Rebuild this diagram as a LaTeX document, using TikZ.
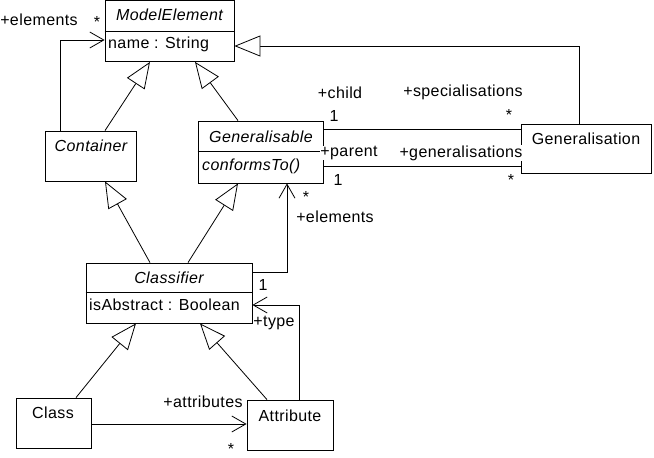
\documentclass[tikz,border=0pt]{standalone}
\usepackage{fontspec}
\setmainfont[LetterSpace=2.5]{Liberation Sans}
\usetikzlibrary{arrows.meta,calc}
\begin{document}
\begin{tikzpicture}[x=1pt,y=-1pt,
 every node/.style={font=\fontsize{16}{19}\selectfont},
 box/.style={draw, fill=white, line width=0.8pt, inner sep=0pt, rectangle},
 txt/.style={inner sep=0pt},
 lbl/.style={inner sep=0.5pt, fill=white},
 genarrow/.style={-{Triangle[open,length=26pt,width=21pt,fill=white]}, line width=0.8pt},
 nav/.style={-{Straight Barb[length=14pt,width=16pt]}, line width=0.8pt},
 conn/.style={line width=0.8pt}]
\useasboundingbox (0,0) rectangle (654,458);
% boxes
\node[box, minimum width=129pt, minimum height=61pt] (me) at (169.5,31) {};
\node[box, minimum width=91pt, minimum height=50pt] (cont) at (90.5,156) {};
\node[box, minimum width=125pt, minimum height=62pt] (gen) at (260.5,152) {};
\node[box, minimum width=130pt, minimum height=49pt] (gz) at (586,148.5) {};
\node[box, minimum width=166pt, minimum height=60pt] (cl) at (169,293) {};
\node[box, minimum width=75pt, minimum height=50pt] (cls) at (53.5,423) {};
\node[box, minimum width=86pt, minimum height=50pt] (attr) at (290,425) {};
% dividers
\draw[conn] (me.west |- 0,31) -- (me.east |- 0,31);
\draw[conn] (gen.west |- 0,151) -- (gen.east |- 0,151);
\draw[conn] (cl.west |- 0,292) -- (cl.east |- 0,292);
% box texts
\node[txt] (tme) at (169.5,15) {\itshape ModelElement};
\node[txt, anchor=west] (tmea) at (108,44) {name : String};
\node[txt] (tcont) at (91,146) {\itshape Container};
\node[txt] (tgen) at (261,137) {\itshape Generalisable};
\node[txt, anchor=west] (tgena) at (202,166) {\itshape conformsTo()};
\node[txt] (tgz) at (586,139) {Generalisation};
\node[txt] (tcl) at (169,278) {\itshape Classifier};
\node[txt, anchor=west] (tcla) at (89,305) {isAbstract : Boolean};
\node[txt] (tcls) at (53,413) {Class};
\node[txt] (tattr) at (290,416) {Attribute};
% generalisations
\draw[genarrow] ([xshift=14.5pt]cont.north) -- ([xshift=-19.5pt]me.south);
\draw[genarrow] ([xshift=-22.5pt]gen.north) -- ([xshift=25.5pt]me.south);
\draw[genarrow] ([xshift=-7pt]gz.north) |- ([yshift=-15pt]me.east);
\draw[genarrow] ([xshift=-19pt]cl.north) -- ([xshift=14.5pt]cont.south);
\draw[genarrow] ([xshift=19pt]cl.north) -- ([xshift=-22.5pt]gen.south);
\draw[genarrow] ([xshift=22.5pt]cls.north) -- ([xshift=-33pt]cl.south);
\draw[genarrow] ([xshift=-23pt]attr.north) -- ([xshift=31pt]cl.south);
% associations
\draw[nav] ([xshift=-30.5pt]cont.north) |- ([yshift=-9pt]me.west);
\draw[conn] ([yshift=23pt]gen.east) -- ([yshift=23pt]gen.east -| gz.west);
\draw[conn] ([yshift=-14pt]gen.east) -- ([yshift=-14pt]gen.east -| gz.west);
\draw[nav] ([yshift=21pt]cl.east) -| ([xshift=26.5pt]gen.south);
\draw[nav] ([xshift=9.5pt]attr.north) |- ([yshift=-12pt]cl.east);
\draw[nav] ([yshift=-1pt]cls.east) -- ([yshift=-1pt]cls.east -| attr.west);
% labels
\node[lbl] (l1) at (39,20) {+elements};
\node[lbl] (l2) at (97,22) {*};
\node[lbl] (l3) at (340,93) {+child};
\node[lbl] (l4) at (334,116) {1};
\node[lbl] (l5) at (463,92) {+specialisations};
\node[lbl] (l6) at (509,115) {*};
\node[lbl] (l7) at (349,153) {+parent};
\node[lbl] (l8) at (461,153) {+generalisations};
\node[lbl] (l9) at (338,180) {1};
\node[lbl] (l10) at (511,180) {*};
\node[lbl] (l11) at (306,197) {*};
\node[lbl] (l12) at (335,217) {+elements};
\node[lbl] (l13) at (263,285) {1};
\node[lbl] (l14) at (274,323) {+type};
\node[lbl] (l15) at (203,402) {+attributes};
\node[lbl] (l16) at (231,449) {*};
\end{tikzpicture}
\end{document}
